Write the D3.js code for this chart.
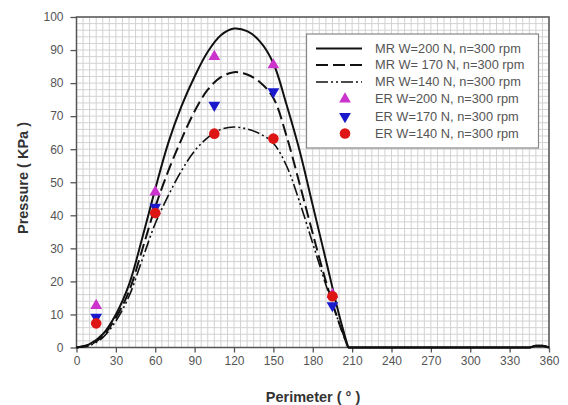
<!DOCTYPE html>
<html><head><meta charset="utf-8">
<script src="https://cdn.jsdelivr.net/npm/d3@7"></script>
<style>body{margin:0;background:#fff}svg{display:block}</style>
</head><body>
<script>
// ---- data ----
const mrX = [0,10,20,30,40,50,60,70,80,90,100,110,120,130,140,150,160,170,180,190,200,207,220,240,260,280,300,320,340,345,350,355,360];
const mr200 = [0,1,4,10,19,33,48,62,73,82,89.5,94.5,96.5,95.7,92.5,86,73.5,59.5,43,26.5,10,0,0,0,0,0,0,0,0,0,0.5,0.5,0];
const mr170 = [0,0.8,3.5,9,17,29.5,42.5,53.5,63,71.5,78,81.8,83.3,82.6,80.2,75.5,64,49.5,34.5,20,7.5,0,0,0,0,0,0,0,0,0,0.5,0.5,0];
const mr140 = [0,0.6,3,8,15.5,26.5,37.5,46,53.5,59.5,63.5,66,66.7,66.1,64.6,61.8,55,44,31.5,19,7.5,0,0,0,0,0,0,0,0,0,0.5,0.5,0];
const erX = [15,60,105,150,195];
const er200 = [12.7,47,88,85.5,16];
const er170 = [9.2,42.5,73.3,77.4,12.7];
const er140 = [7.3,40.7,64.7,63.2,15.5];
const xTicks = [0,30,60,90,120,150,180,210,240,270,300,330,360];
const yTicks = [0,10,20,30,40,50,60,70,80,90,100];
const legendLabels = ["MR W=200 N, n=300 rpm","MR W= 170 N, n=300 rpm","MR W=140 N, n=300 rpm","ER W=200 N, n=300 rpm","ER W=170 N, n=300 rpm","ER W=140 N, n=300 rpm"];

const W=568,H=405;
const svg=d3.select("body").append("svg").attr("width",W).attr("height",H)
  .style("font-family","'Liberation Sans', Arial, sans-serif");
const x=d3.scaleLinear().domain([0,360]).range([76.5,549]);
const y=d3.scaleLinear().domain([0,100]).range([347.5,17]);

// grid
const g=svg.append("g");
g.selectAll("line.gx").data(d3.range(0,361,5)).join("line")
 .attr("x1",d=>x(d)).attr("x2",d=>x(d)).attr("y1",y(0)).attr("y2",y(100))
 .attr("stroke","#d2d2d2").attr("stroke-width",1);
g.selectAll("line.gy").data(d3.range(0,101,2)).join("line")
 .attr("y1",d=>y(d)).attr("y2",d=>y(d)).attr("x1",x(0)).attr("x2",x(360))
 .attr("stroke","#d2d2d2").attr("stroke-width",1);

// axes
const xa=svg.append("g").attr("transform",`translate(0,${y(0)})`)
 .call(d3.axisBottom(x).tickValues(xTicks).tickSize(5).tickPadding(4));
const ya=svg.append("g").attr("transform",`translate(${x(0)},0)`)
 .call(d3.axisLeft(y).tickValues(yTicks).tickSize(6).tickPadding(7));
[xa,ya].forEach(a=>{a.select(".domain").remove();
 a.selectAll("line").attr("stroke","#555").attr("stroke-width",1.3);
 a.selectAll("text").attr("fill","#555").style("font-size","12px").style("font-family","'Liberation Sans', Arial, sans-serif");});

// frame
svg.append("rect").attr("x",x(0)).attr("y",y(100)).attr("width",x(360)-x(0)).attr("height",y(0)-y(100))
 .attr("fill","none").attr("stroke","#555").attr("stroke-width",1.5);

// lines: smooth hump (catmull-rom) + flat tail
const hump=d3.line().x(d=>x(d[0])).y(d=>y(d[1])).curve(d3.curveCatmullRom.alpha(0.5));
const tail=d3.line().x(d=>x(d[0])).y(d=>y(d[1])).curve(d3.curveMonotoneX);
const series=[
 {v:mr200,dash:null,w:2},
 {v:mr170,dash:"12,5",w:2},
 {v:mr140,dash:"12,3,2,3,2,3",w:1.6}];
const split=mrX.indexOf(207);
series.forEach(s=>{
 const pts=mrX.map((d,i)=>[d,s.v[i]]);
 svg.append("path").datum(pts.slice(0,split+1)).attr("d",hump)
  .attr("fill","none").attr("stroke","#111").attr("stroke-width",s.w)
  .attr("stroke-dasharray",s.dash);
 svg.append("path").datum(pts.slice(split)).attr("d",tail)
  .attr("fill","none").attr("stroke","#111").attr("stroke-width",s.w);
});

// markers
const tri=d3.symbol().type(d3.symbolTriangle).size(60);
svg.append("g").selectAll("path").data(erX.map((d,i)=>[d,er200[i]])).join("path")
 .attr("d",tri).attr("transform",d=>`translate(${x(d[0])},${y(d[1])})`).attr("fill","#cc33cc");
svg.append("g").selectAll("path").data(erX.map((d,i)=>[d,er170[i]])).join("path")
 .attr("d",tri).attr("transform",d=>`translate(${x(d[0])},${y(d[1])}) rotate(180)`).attr("fill","#1a1acc");
svg.append("g").selectAll("circle").data(erX.map((d,i)=>[d,er140[i]])).join("circle")
 .attr("cx",d=>x(d[0])).attr("cy",d=>y(d[1])).attr("r",5.3).attr("fill","#dd1515");

// legend
const lg=svg.append("g");
lg.append("rect").attr("x",306.5).attr("y",34).attr("width",232).attr("height",114)
 .attr("fill","#fff").attr("stroke","#888").attr("stroke-width",1.2);
const ly=[48.5,65,82,99,116.5,133.5];
legendLabels.forEach((t,i)=>{
 const yy=ly[i];
 if(i<3){
  lg.append("line").attr("x1",316).attr("x2",362).attr("y1",yy).attr("y2",yy)
   .attr("stroke","#111").attr("stroke-width",series[i].w).attr("stroke-dasharray",series[i].dash);
 } else if(i===3){
  lg.append("path").attr("d",tri).attr("transform",`translate(345,${yy})`).attr("fill","#cc33cc");
 } else if(i===4){
  lg.append("path").attr("d",tri).attr("transform",`translate(345,${yy}) rotate(180)`).attr("fill","#1a1acc");
 } else {
  lg.append("circle").attr("cx",345).attr("cy",yy).attr("r",5.3).attr("fill","#dd1515");
 }
 lg.append("text").attr("x",375).attr("y",yy).attr("dy","0.35em").text(t)
  .attr("fill","#555").style("font-size","12.8px");
});

// titles
svg.append("text").attr("x",313).attr("y",397).attr("text-anchor","middle").attr("dy","0.35em")
 .style("font-size","14.5px").style("font-weight","bold").attr("fill","#333").text("Perimeter ( ° )");
svg.append("text").attr("transform","translate(23,178) rotate(-90)").attr("text-anchor","middle").attr("dy","0.35em")
 .style("font-size","14.5px").style("font-weight","bold").attr("fill","#333").text("Pressure ( KPa )");
</script>
</body></html>
